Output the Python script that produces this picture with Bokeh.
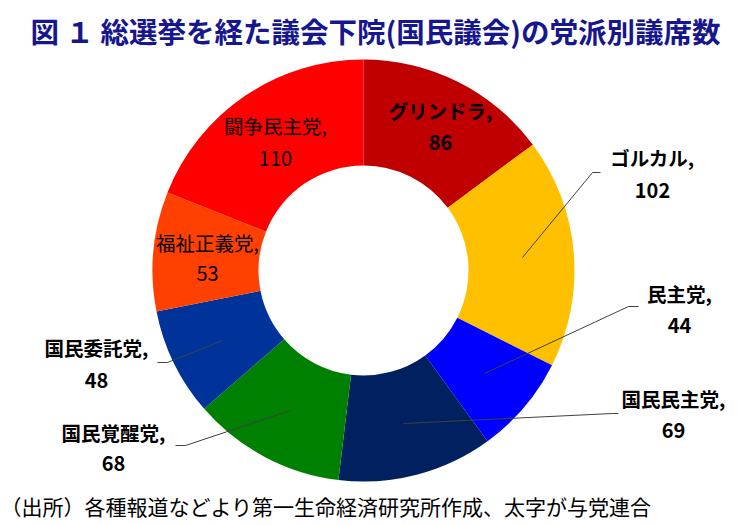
import numpy as np
from bokeh.plotting import figure
from bokeh.models import ColumnDataSource, Range1d
from bokeh.core.properties import value
from bokeh.embed import file_html
from bokeh.resources import INLINE

# ---- data ----
parties = ["グリンドラ", "ゴルカル", "民主党", "国民民主党", "国民覚醒党", "国民委託党", "福祉正義党", "闘争民主党"]
seats = [86, 102, 44, 69, 68, 48, 53, 110]
ruling = [True, True, True, True, True, True, False, False]
title_text = "図 １ 総選挙を経た議会下院(国民議会)の党派別議席数"
note_text = "（出所）各種報道などより第一生命経済研究所作成、太字が与党連合"

# ---- styles / layout ----
colors = ["#C00000", "#FFC000", "#0000FF", "#002060", "#008000", "#003399", "#FF4000", "#FF0000"]
W, H = 738, 525
def px(X):
    return X
def py(Y):
    return H - Y

cx, cy = px(363), py(270)
r_out, r_in = 211, 105

# label positions (image pixel coordinates): x, name y, value y
lab_x = [440, 652, 679, 673, 113, 96, 207, 275]
lab_name_y = [110, 157, 293, 398, 432, 347, 242, 125]
lab_val_y = [142, 190, 325, 430, 463, 380, 273, 158]

# leader lines (image pixel coordinates)
leaders = [
    [(522, 257), (592, 172), (600, 172)],
    [(484, 373), (628, 306), (638, 306)],
    [(403, 423), (612, 413), (618, 413)],
    [(290, 410), (185, 445), (175, 445)],
    [(222, 340), (167, 362), (157, 362)],
]

total = float(sum(seats))
cum = np.cumsum([0] + seats)
start = [np.pi / 2 - 2 * np.pi * cum[i] / total for i in range(len(seats))]
end = [np.pi / 2 - 2 * np.pi * cum[i + 1] / total for i in range(len(seats))]

p = figure(width=W, height=H, output_backend="svg", toolbar_location=None,
           x_range=Range1d(0, W), y_range=Range1d(0, H), min_border=0)
p.axis.visible = False
p.grid.visible = False
p.outline_line_color = None
p.background_fill_color = "white"

src = ColumnDataSource(dict(start=start, end=end, color=colors))
p.annular_wedge(x=cx, y=cy, inner_radius=r_in, outer_radius=r_out,
                start_angle="start", end_angle="end", direction="clock",
                fill_color="color", line_color=None, source=src)

p.multi_line(xs=[[px(a[0]) for a in L] for L in leaders],
             ys=[[py(a[1]) for a in L] for L in leaders],
             line_color="#404040", line_width=1)

font = value("Noto Sans CJK JP")
for bold in (True, False):
    idx = [i for i in range(len(parties)) if ruling[i] == bold]
    s = ColumnDataSource(dict(
        x=[px(lab_x[i]) for i in idx],
        yn=[py(lab_name_y[i]) for i in idx],
        yv=[py(lab_val_y[i]) for i in idx],
        name=[parties[i] + "," for i in idx],
        val=[str(seats[i]) for i in idx],
    ))
    style = "bold" if bold else "normal"
    p.text(x="x", y="yn", text="name", source=s, text_font=font, text_font_style=style,
           text_font_size="19.5px", text_align="center", text_baseline="middle", text_color="#000000")
    p.text(x="x", y="yv", text="val", source=s, text_font=font, text_font_style=style,
           text_font_size="20px", text_align="center", text_baseline="middle", text_color="#000000")

p.text(x=[px(375)], y=[py(30)], text=[title_text], text_font=font, text_font_style="bold",
       text_font_size="28.5px", text_align="center", text_baseline="middle", text_color="#16168E")
p.text(x=[px(0)], y=[py(505)], text=[note_text], text_font=font,
       text_font_size="21px", text_align="left", text_baseline="middle", text_color="#000000")

open("out.html", "w").write(file_html(p, INLINE))
